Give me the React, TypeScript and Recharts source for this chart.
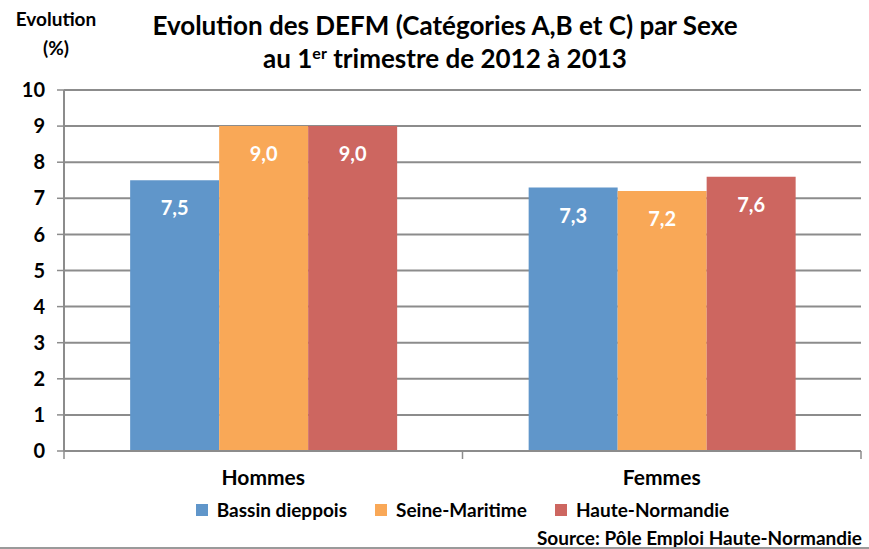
import { BarChart, Bar, XAxis, YAxis, CartesianGrid, LabelList } from 'recharts';

const categories = ['Hommes', 'Femmes'];
const bassinDieppois = [7.5, 7.3];
const seineMaritime = [9.0, 7.2];
const hauteNormandie = [9.0, 7.6];
const yTicks = [0, 1, 2, 3, 4, 5, 6, 7, 8, 9, 10];

const series = [
  { key: 'bassin', name: 'Bassin dieppois', color: '#6096CA' },
  { key: 'seine', name: 'Seine-Maritime', color: '#F9A857' },
  { key: 'haute', name: 'Haute-Normandie', color: '#CD6660' },
];

const data = categories.map((cat, i) => ({
  name: cat,
  bassin: bassinDieppois[i],
  seine: seineMaritime[i],
  haute: hauteNormandie[i],
}));

const FONT = 'Lato, "Open Sans", sans-serif';
const GRID = '#8C8C8C';

const fmt = (v: any) => Number(v).toFixed(1).replace('.', ',');

function CategoryTick(props: any) {
  const { x, y, payload, index, width, visibleTicksCount } = props;
  const band = width / (visibleTicksCount || 2);
  const axisY = y - 8;
  return (
    <g>
      <line x1={x + band / 2} x2={x + band / 2} y1={axisY} y2={axisY + 8} stroke={GRID} strokeWidth={1.5} />
      {index === 0 && (
        <line x1={x - band / 2} x2={x - band / 2} y1={axisY} y2={axisY + 8} stroke={GRID} strokeWidth={1.5} />
      )}
      <text x={x} y={axisY + 34} textAnchor="middle" fontFamily={FONT} fontWeight={700} fontSize={21} fill="#000">
        {payload.value}
      </text>
    </g>
  );
}

export default function App() {
  return (
    <div style={{ position: 'absolute', left: 0, top: 0, width: 869, height: 549, background: '#fff', fontFamily: FONT }}>
      <div style={{ position: 'absolute', left: 0, width: 112, top: 4, textAlign: 'center', fontWeight: 700, fontSize: 19, lineHeight: '29px', color: '#000' }}>
        Evolution<br />(%)
      </div>
      <div style={{ position: 'absolute', left: 0, width: 890, top: 9, textAlign: 'center', fontWeight: 700, fontSize: 26, lineHeight: '33px', color: '#000' }}>
        Evolution des DEFM (Catégories A,B et C) par Sexe<br />
        au 1<sup style={{ fontSize: 16, verticalAlign: 'top', lineHeight: '22px' }}>er</sup> trimestre de 2012 à 2013
      </div>
      <div style={{ position: 'absolute', left: 0, top: 0 }}>
        <BarChart
          width={869}
          height={549}
          data={data}
          margin={{ top: 90, right: 8, bottom: 38, left: 14 }}
          barCategoryGap="16.6%"
          barGap={0}
        >
          <CartesianGrid vertical={false} stroke={GRID} strokeWidth={2} />
          <YAxis
            width={50}
            domain={[0, 10]}
            ticks={yTicks}
            interval={0}
            axisLine={{ stroke: GRID, strokeWidth: 2 }}
            tickLine={{ stroke: GRID, strokeWidth: 1.5 }}
            tickSize={7}
            tickMargin={12}
            tick={{ fontFamily: FONT, fontWeight: 700, fontSize: 20, fill: '#000' }}
          />
          <XAxis
            dataKey="name"
            axisLine={{ stroke: GRID, strokeWidth: 2 }}
            tickLine={false}
            tick={<CategoryTick />}
            height={60}
          />
          {series.map((s) => (
            <Bar key={s.key} dataKey={s.key} name={s.name} fill={s.color} isAnimationActive={false}>
              <LabelList
                dataKey={s.key}
                position="insideTop"
                offset={21}
                formatter={fmt}
                fill="#fff"
                fontFamily={FONT}
                fontWeight={700}
                fontSize={20}
              />
            </Bar>
          ))}
        </BarChart>
      </div>
      <div style={{ position: 'absolute', left: 64, width: 797, top: 497, display: 'flex', justifyContent: 'center', fontWeight: 700, fontSize: 19, lineHeight: '26px', color: '#000' }}>
        {series.map((s, i) => (
          <div key={s.key} style={{ display: 'flex', alignItems: 'center', marginLeft: i === 0 ? 0 : 28 }}>
            <span style={{ display: 'inline-block', width: 12, height: 12, background: s.color, marginRight: 9 }} />
            <span>{s.name}</span>
          </div>
        ))}
      </div>
      <div style={{ position: 'absolute', right: 7, top: 525, fontWeight: 700, fontSize: 19, lineHeight: '26px', color: '#000' }}>
        Source: Pôle Emploi Haute-Normandie
      </div>
      <div style={{ position: 'absolute', left: 0, top: 547, width: 869, height: 2, background: '#9A9A9A' }} />
    </div>
  );
}
